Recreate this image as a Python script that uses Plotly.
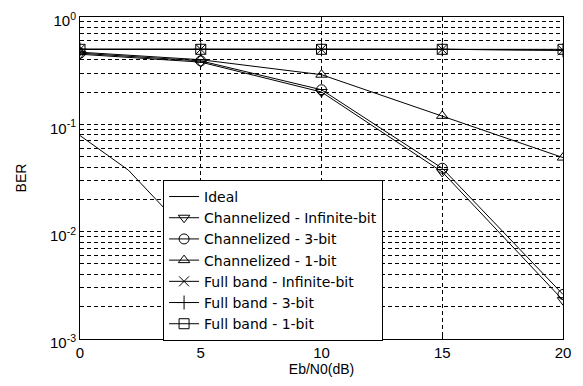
import plotly.graph_objects as go

ebn0 = [0, 5, 10, 15, 20]
ideal_x = [0, 2, 4, 6, 8, 10]
ideal_ber = [0.0786, 0.0375, 0.0125, 0.00239, 0.000191, 0.00000387]

chan_inf = [0.45, 0.38, 0.20, 0.036, 0.0023]
chan_3bit = [0.46, 0.39, 0.21, 0.039, 0.0026]
chan_1bit = [0.47, 0.40, 0.29, 0.12, 0.049]
full_inf = [0.50, 0.50, 0.50, 0.50, 0.49]
full_3bit = [0.50, 0.50, 0.50, 0.50, 0.49]
full_1bit = [0.50, 0.50, 0.50, 0.50, 0.50]

ytick_vals = [1e-3, 1e-2, 1e-1, 1]
ytick_text = ["10<sup>-3</sup>", "10<sup>-2</sup>", "10<sup>-1</sup>", "10<sup>0</sup>"]

fig = go.Figure()
fig.add_trace(go.Scatter(x=ideal_x, y=ideal_ber, mode="lines", name="Ideal",
                         line=dict(color="black", width=1)))
series = [
    ("Channelized - Infinite-bit", chan_inf, "triangle-down-open"),
    ("Channelized - 3-bit", chan_3bit, "circle-open"),
    ("Channelized - 1-bit", chan_1bit, "triangle-up-open"),
    ("Full band - Infinite-bit", full_inf, "x-thin-open"),
    ("Full band - 3-bit", full_3bit, "cross-thin-open"),
    ("Full band - 1-bit", full_1bit, "square-open"),
]
for name, vals, sym in series:
    fig.add_trace(go.Scatter(x=ebn0, y=vals, mode="lines+markers", name=name,
                             line=dict(color="black", width=1),
                             marker=dict(symbol=sym, size=10, color="black",
                                         line=dict(color="black", width=1))))

# page body has an 8px margin, so the figure is shrunk by 8px
fig.update_layout(
    width=575, height=378,
    margin=dict(l=72, r=20, t=9, b=47, autoexpand=False),
    paper_bgcolor="white", plot_bgcolor="white",
    font=dict(family="Liberation Sans, Arial, sans-serif", color="black", size=13),
    showlegend=True,
    legend=dict(x=0.172, y=0.494, xanchor="left", yanchor="top",
                bgcolor="white", bordercolor="black", borderwidth=1,
                font=dict(size=14, family="DejaVu Sans, sans-serif"), tracegroupgap=0),
    xaxis=dict(range=[0, 20], tickvals=[0, 5, 10, 15, 20], ticks="inside",
               ticklen=4, tickcolor="black", automargin=False,
               ticklabeloverflow="allow",
               showline=True, mirror=True, linecolor="black", linewidth=1,
               showgrid=True, gridcolor="black", griddash="4px,3px", gridwidth=1,
               zeroline=False, tickfont=dict(size=15),
               title=dict(text="Eb/N0(dB)", font=dict(size=14), standoff=4)),
    yaxis=dict(type="log", range=[-3, 0], tickvals=ytick_vals, ticktext=ytick_text,
               ticks="", showline=True, mirror=True, linecolor="black", linewidth=1,
               automargin=False, ticklabeloverflow="allow", ticklabelshift=4,
               showgrid=True, gridcolor="black", griddash="4px,3px", gridwidth=1,
               minor=dict(showgrid=True, gridcolor="black", griddash="4px,3px",
                          gridwidth=1, dtick="D1", ticks=""),
               zeroline=False, tickfont=dict(size=15),
               title=dict(text="BER", font=dict(size=14), standoff=20)),
)

fig.write_html("out.html")
